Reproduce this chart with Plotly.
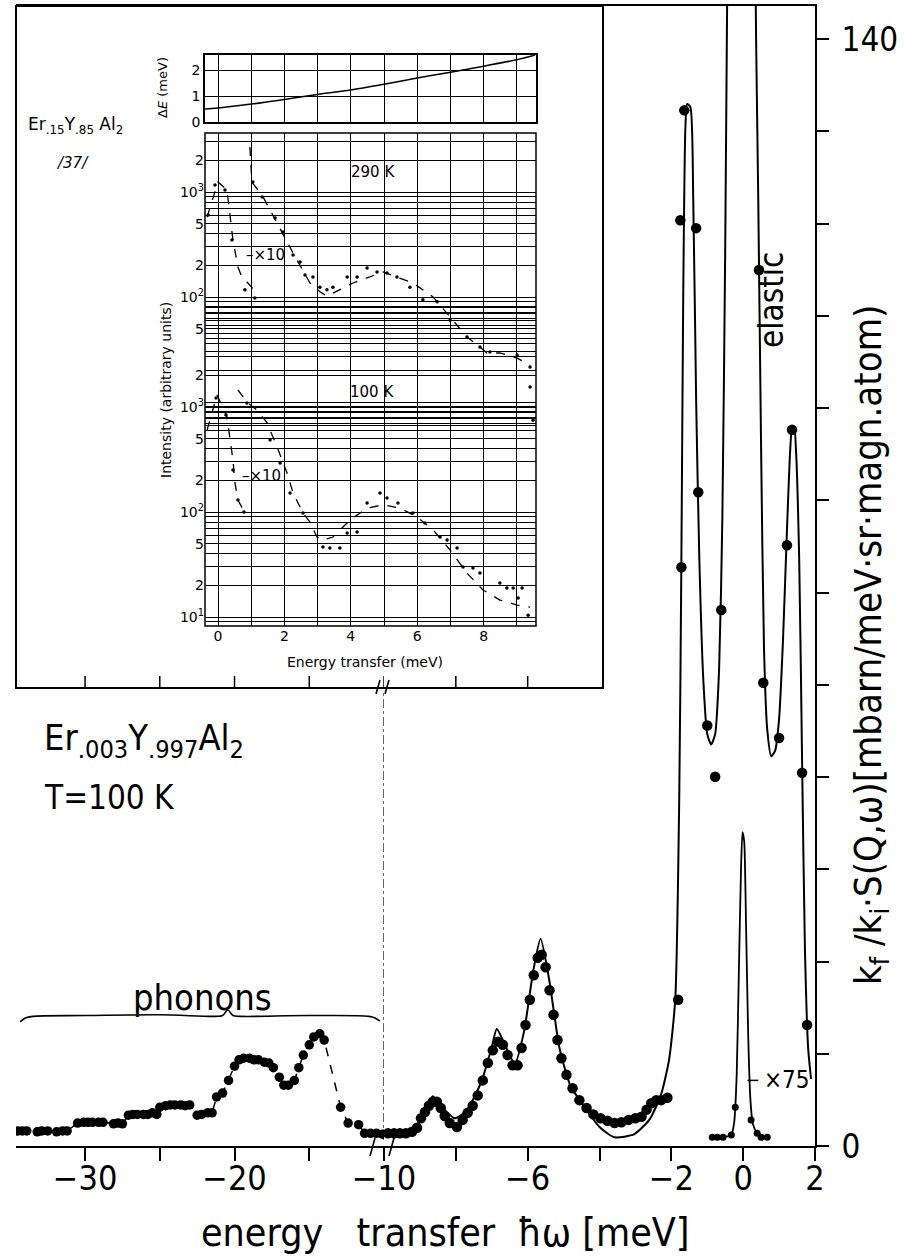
import plotly.graph_objects as go

W, H = 909, 1256
FONT = "DejaVu Sans Condensed, Liberation Sans Narrow, DejaVu Sans, sans-serif"


def fx(p):
    return p / W


def fy(p):
    return (H - p) / H


# ---------------- main panel data (energy transfer in meV, intensity) ----------------
# phonon region (compressed scale, E <= -10), dots joined by a dashed line
left_E = [-34.5, -34.2, -33.9, -33.2, -32.9, -32.5, -31.9, -31.5, -31.2,
          -30.5, -30.1, -29.8, -29.5, -29.1, -28.8,
          -28.1, -27.8, -27.5,
          -27.1, -26.8, -26.5, -26.1, -25.8, -25.5, -25.2,
          -25.0, -24.6, -24.3, -24.0, -23.6, -23.3, -23.0,
          -22.5, -22.2, -21.8, -21.5,
          -21.2, -20.8, -20.4, -20.0, -19.7, -19.4, -19.0, -18.7, -18.4, -18.0, -17.7,
          -17.4, -17.0, -16.7, -16.4, -16.0, -15.7, -15.4, -15.0, -14.7, -14.3, -14.0,
          -12.9, -12.4, -11.7, -11.3, -10.9, -10.5, -10.1]
left_S = [1.9, 1.9, 1.9, 1.8, 1.9, 1.9, 1.8, 1.9, 1.9,
          2.9, 3.0, 3.0, 3.0, 3.0, 3.0,
          2.8, 2.9, 2.8,
          3.9, 4.0, 4.0, 4.0, 4.0, 4.2, 4.0,
          4.9, 5.1, 5.2, 5.2, 5.2, 5.1, 5.2,
          3.9, 4.0, 4.2, 4.2,
          6.2, 6.7, 8.3, 10.1, 10.9, 11.1, 11.1, 10.9, 10.9, 10.6, 10.5,
          9.9, 8.7, 7.7, 7.7, 8.3, 9.9, 11.5, 12.8, 13.8, 14.2, 13.4,
          4.9, 2.9, 2.7, 1.6, 1.6, 1.6, 1.5]

# crystal-field region (expanded scale, E >= -10): measured dots
right_E = [-9.89, -9.72, -9.56, -9.39, -9.22, -9.08, -8.97, -8.86, -8.75, -8.64,
           -8.53, -8.42, -8.31, -8.17, -7.97, -7.81, -7.67, -7.53, -7.39, -7.25,
           -7.11, -6.97, -6.83, -6.69, -6.56, -6.42, -6.28, -6.17, -6.06, -5.94,
           -5.83, -5.72, -5.61, -5.50, -5.39, -5.28, -5.17, -5.06, -4.92, -4.75,
           -4.56, -4.36, -4.17, -3.97, -3.78, -3.58, -3.39, -3.19, -3.00, -2.83,
           -2.69, -2.56, -2.42, -2.28, -2.11, -1.81, -1.75, -1.72, -1.64, -1.31,
           -1.25, -1.00, -0.78, -0.61, 0.44, 0.56, 1.00, 1.22, 1.36, 1.64, 1.78]
right_S = [1.6, 1.6, 1.6, 1.6, 1.8, 2.3, 3.5, 4.3, 5.1, 5.6,
           5.6, 4.8, 3.8, 2.9, 2.4, 3.3, 4.2, 5.1, 6.4, 8.3,
           10.5, 12.1, 13.2, 12.8, 11.5, 10.2, 10.2, 12.4, 15.3, 18.5,
           21.6, 23.8, 24.2, 22.6, 19.7, 16.6, 13.4, 11.1, 9.0, 7.3,
           5.8, 4.8, 4.0, 3.5, 3.2, 2.9, 3.0, 3.3, 3.5, 3.7,
           4.6, 5.4, 5.8, 5.8, 6.1, 18.5, 117.1, 73.2, 131.0, 116.1,
           82.7, 53.2, 46.7, 67.8, 110.8, 58.6, 51.6, 76.0, 90.6, 47.2, 15.3]

# calculated curve (solid); gap where the elastic line leaves the frame
fit_E = [-9.6, -9.2, -8.9, -8.64, -8.4, -8.03, -7.7, -7.3, -7.0, -6.86,
         -6.6, -6.36, -6.1, -5.85, -5.64, -5.4, -5.11, -4.8, -4.56, -4.0,
         -3.58, -3.03, -2.6, -2.28, -2.06, -1.89, -1.78, -1.72, -1.67, -1.61,
         -1.56, -1.47, -1.39, -1.31, -1.22, -1.11, -1.0, -0.89, -0.78, -0.67,
         -0.58, -0.5, -0.42, None,
         0.3, 0.36, 0.42, 0.5, 0.58, 0.67, 0.78, 0.89, 1.0, 1.11,
         1.22, 1.31, 1.36, 1.42, 1.47, 1.56, 1.64, 1.72, 1.81, 1.89]
fit_S = [1.6, 2.0, 4.0, 6.3, 5.0, 3.5, 4.5, 8.0, 12.5, 14.8,
         12.5, 10.4, 14.5, 22.0, 26.2, 21.0, 12.3, 7.5, 5.9, 2.4,
         1.1, 1.5, 3.4, 6.6, 11.0, 18.6, 43.9, 74.2, 107.0, 128.6,
         131.8, 131.4, 119.8, 94.5, 74.2, 59.0, 52.1, 50.8, 52.1, 60.3,
         79.3, 113.4, 160.0, None,
         170.0, 140.0, 119.8, 88.1, 62.9, 52.7, 49.3, 50.0, 54.0, 64.1,
         78.0, 88.1, 90.7, 90.9, 88.1, 74.2, 48.9, 24.9, 12.3, 8.5]

# elastic line scaled down x75
x75_dot_E = [-0.86, -0.72, -0.56, -0.33, -0.22, 0.22, 0.39, 0.50, 0.67]
x75_dot_S = [1.1, 1.1, 1.1, 1.4, 4.9, 3.3, 1.6, 1.1, 1.1]
x75_fit_E = [-0.56, -0.33, -0.25, -0.18, -0.12, -0.06, -0.02, 0.03, 0.08, 0.14, 0.20, 0.27, 0.39, 0.50]
x75_fit_S = [1.1, 1.4, 3.0, 9.0, 22.0, 35.0, 39.7, 38.5, 28.0, 14.0, 6.0, 2.8, 1.6, 1.1]

# "phonons" brace
brace_E = [-34.35, -34.0, -33.5, -30, -25, -21.3, -20.8, -20.45, -20.1, -19.6, -15, -11, -10.6, -10.27]
brace_S = [15.7, 16.2, 16.4, 16.5, 16.6, 16.4, 16.5, 17.2, 16.5, 16.4, 16.5, 16.4, 16.2, 15.8]

# main axis ticks
left_ticks = [-30, -25, -20, -15, -10]
left_labels = ["\u221230", "", "\u221220", "", "\u221210"]
right_ticks = [-8, -6, -4, -2, 0, 2]
right_labels = ["", "\u22126", "", "\u22122", "0", "2"]
inset_edge_ticks_left = [-30, -25, -20, -15, -10]
inset_edge_ticks_right = [-8, -6]
y_ticks = [i * 140 / 12 for i in range(13)]
y_labels = ["0"] + [""] * 11 + ["140"]

# ---------------- inset data ----------------
dE_E = [-0.39, 0, 1, 2, 3, 4, 5, 6, 7, 8, 9, 9.55]
dE_W = [0.50, 0.54, 0.69, 0.87, 1.06, 1.23, 1.45, 1.69, 1.92, 2.15, 2.40, 2.58]

hot_peak_E = [-0.33, -0.18, 0.0, 0.27, 0.36, 0.45, 0.60, 0.72, 0.90, 1.17]
hot_peak_I = [578, 839, 1245, 1045, 631, 349, 193, 155, 136, 109]
hot_x10_E = [0.96, 1.02, 1.36, 1.72, 2.26, 2.77, 3.07, 3.28, 3.46, 4.07,
             4.97, 5.87, 6.48, 6.99, 7.50, 7.89, 8.10, 8.49, 9.01, 9.40]
hot_x10_I = [2683, 1245, 896, 541, 262, 136, 112, 102, 109, 136,
             173, 136, 100, 64.5, 41.6, 33.4, 29.3, 29.3, 26.2, 22.5]
hot_pts_E = [-0.30, -0.09, 0.21, 0.42, 0.81, 1.11, 1.05, 1.33, 1.72, 1.96, 2.26,
             2.47, 2.62, 2.86, 3.07, 3.28, 3.46, 3.89, 4.19, 4.49, 4.79,
             5.09, 5.39, 5.78, 6.17, 6.60, 6.99, 7.50, 7.89, 8.19, 9.01,
             9.40, 9.40, 9.49]
hot_pts_I = [604, 1166, 1045, 349, 117, 98, 1245, 896, 565, 416, 251,
             215, 162, 155, 124, 117, 124, 155, 155, 189, 173,
             169, 155, 124, 94, 90, 60, 41.6, 33.4, 29.9, 28.1,
             21.5, 13.9, 6.7]

cold_peak_E = [-0.33, -0.03, 0.27, 0.36, 0.45, 0.51, 0.60, 0.81]
cold_peak_I = [604, 1301, 803, 518, 313, 189, 130, 98]
cold_x10_E = [0.60, 0.87, 1.17, 1.48, 1.78, 2.08, 2.26, 2.56, 2.77, 2.98,
              3.16, 3.46, 3.98, 4.49, 4.97, 5.48, 5.99, 6.48, 6.99, 7.50,
              7.98, 8.49, 9.01, 9.40]
cold_x10_I = [1452, 1116, 936, 705, 416, 235, 152, 98, 80, 57.8,
              54.1, 57.8, 84, 109, 117, 109, 90, 67.5, 43.5, 26.2,
              18.1, 14.5, 13.0, 12.4]
cold_pts_E = [-0.06, 0.24, 0.45, 0.60, 0.78, 0.87, 1.57, 1.87, 2.17, 2.56,
              3.16, 3.37, 3.67, 3.89, 4.19, 4.49, 4.88, 5.09, 5.42, 5.87,
              6.23, 6.69, 6.90, 7.20, 7.38, 7.68, 7.89, 8.49, 8.70, 8.89,
              9.16, 9.04, 9.34]
cold_pts_I = [1218, 839, 251, 130, 100, 1092, 485, 293, 152, 98,
              46.4, 45.4, 45.4, 63.1, 64.5, 122, 152, 136, 122, 98,
              78.5, 57.8, 54.1, 45.4, 29.9, 29.3, 26.2, 21.1, 18.9, 18.9,
              18.9, 15.2, 10.4]

hot_ticks = [50, 100, 200, 500, 1000, 2000]
hot_labels = ["5", "10<sup>2</sup>", "2", "5", "10<sup>3</sup>", "2"]
cold_ticks = [10, 20, 50, 100, 200, 500, 1000, 2000]
cold_labels = ["10<sup>1</sup>", "2", "5", "10<sup>2</sup>", "2", "5", "10<sup>3</sup>", "2"]
inset_xticks = list(range(10))
inset_xlabels = ["0", "", "2", "", "4", "", "6", "", "8", ""]
log_minor = [k * 10 ** n for n in range(0, 4) for k in range(1, 10)]

# ---------------- figure ----------------
fig = go.Figure()
BLK = "black"

fig.add_trace(go.Scatter(x=left_E, y=left_S, xaxis="x", yaxis="y", mode="lines+markers",
                         line=dict(color=BLK, width=1.5, dash="dash"),
                         marker=dict(size=9.5, color=BLK)))
fig.add_trace(go.Scatter(x=brace_E, y=brace_S, xaxis="x", yaxis="y", mode="lines",
                         line=dict(color=BLK, width=1.6, shape="spline")))
fig.add_trace(go.Scatter(x=fit_E, y=fit_S, xaxis="x2", yaxis="y", mode="lines",
                         line=dict(color=BLK, width=2, shape="spline", smoothing=0.6)))
fig.add_trace(go.Scatter(x=right_E, y=right_S, xaxis="x2", yaxis="y", mode="markers",
                         marker=dict(size=10.5, color=BLK)))
fig.add_trace(go.Scatter(x=x75_fit_E, y=x75_fit_S, xaxis="x2", yaxis="y", mode="lines",
                         line=dict(color=BLK, width=1.8, shape="spline", smoothing=0.5)))
fig.add_trace(go.Scatter(x=x75_dot_E, y=x75_dot_S, xaxis="x2", yaxis="y", mode="markers",
                         marker=dict(size=7, color=BLK)))

# inset: resolution panel
fig.add_trace(go.Scatter(x=dE_E, y=dE_W, xaxis="x4", yaxis="y6", mode="lines",
                         line=dict(color=BLK, width=1.5, shape="spline")))
# inset: 290 K
fig.add_trace(go.Scatter(x=hot_peak_E, y=hot_peak_I, xaxis="x3", yaxis="y3", mode="lines",
                         line=dict(color=BLK, width=1.3, dash="dash")))
fig.add_trace(go.Scatter(x=hot_x10_E, y=hot_x10_I, xaxis="x3", yaxis="y3", mode="lines",
                         line=dict(color=BLK, width=1.3, dash="dash")))
fig.add_trace(go.Scatter(x=hot_pts_E, y=hot_pts_I, xaxis="x3", yaxis="y3", mode="markers",
                         marker=dict(size=3.5, color=BLK)))
# inset: 100 K
fig.add_trace(go.Scatter(x=cold_peak_E, y=cold_peak_I, xaxis="x3", yaxis="y4", mode="lines",
                         line=dict(color=BLK, width=1.3, dash="dash")))
fig.add_trace(go.Scatter(x=cold_x10_E, y=cold_x10_I, xaxis="x3", yaxis="y4", mode="lines",
                         line=dict(color=BLK, width=1.3, dash="dash")))
fig.add_trace(go.Scatter(x=cold_pts_E, y=cold_pts_I, xaxis="x3", yaxis="y4", mode="markers",
                         marker=dict(size=3.5, color=BLK)))

main_x_common = dict(showgrid=False, zeroline=False, showline=True, linecolor=BLK, linewidth=2,
                     ticks="outside", ticklen=13, tickwidth=1.6, tickcolor=BLK, automargin=False,
                     ticklabelstandoff=-12,
                     tickfont=dict(size=34, color=BLK, family=FONT), mirror=True)

inset_grid = dict(showgrid=True, gridcolor=BLK, gridwidth=0.8, zeroline=False, automargin=False)
small_font = dict(size=14, color=BLK, family="DejaVu Sans, sans-serif")

hot_top, hot_bot = 133, 430
cold_top, cold_bot = 300, 626

fig.update_layout(
    template="none",
    width=W, height=H, margin=dict(l=0, r=0, t=0, b=0, pad=0), autosize=False,
    paper_bgcolor="white", plot_bgcolor="rgba(0,0,0,0)", showlegend=False,
    xaxis=dict(domain=[fx(16), fx(384)], range=[-34.62, -10], anchor="y",
               tickmode="array", tickvals=left_ticks, ticktext=left_labels, **main_x_common),
    xaxis2=dict(domain=[fx(384), fx(815)], range=[-10, 2.0], anchor="y",
                tickmode="array", tickvals=right_ticks, ticktext=right_labels, **main_x_common),
    yaxis=dict(domain=[fy(1146), fy(6)], range=[0, 144.2], anchor="x2", side="right",
               tickmode="array", tickvals=y_ticks, ticktext=y_labels, automargin=False,
               showgrid=False, zeroline=False, showline=True, linecolor=BLK, linewidth=2,
               ticks="outside", ticklen=12, tickwidth=1.6, tickcolor=BLK,
               ticklabelstandoff=6,
               tickfont=dict(size=33, color=BLK, family=FONT)),
    # inset axes
    xaxis3=dict(domain=[fx(205), fx(536)], range=[-0.392, 9.578], anchor="y4",
                tickmode="array", tickvals=inset_xticks, ticktext=inset_xlabels,
                ticks="", tickfont=small_font, showline=False, **inset_grid),
    xaxis4=dict(domain=[fx(205), fx(536)], range=[-0.392, 9.578], anchor="y6",
                tickmode="array", tickvals=inset_xticks, showticklabels=False,
                ticks="", showline=True, mirror=True, linecolor=BLK, linewidth=1.5, **inset_grid),
    yaxis6=dict(domain=[fy(122), fy(55)], range=[0, 2.58], anchor="x4",
                tickmode="array", tickvals=[0, 1, 2], ticks="", tickfont=small_font,
                showline=True, mirror=True, linecolor=BLK, linewidth=1.5, **inset_grid),
    yaxis3=dict(type="log", domain=[fy(hot_bot), fy(hot_top)],
                range=[3 + (192 - hot_bot) / 105, 3 + (192 - hot_top) / 105], anchor="x3",
                tickmode="array", tickvals=hot_ticks, ticktext=hot_labels, ticks="",
                tickfont=small_font, showline=False,
                minor=dict(tickmode="array", tickvals=log_minor, showgrid=True,
                           gridcolor=BLK, gridwidth=0.7, ticks=""),
                **inset_grid),
    yaxis4=dict(type="log", domain=[fy(cold_bot), fy(cold_top)],
                range=[3 + (407 - cold_bot) / 105, 3 + (407 - cold_top) / 105], anchor="x3",
                tickmode="array", tickvals=cold_ticks, ticktext=cold_labels, ticks="",
                tickfont=small_font, showline=False,
                minor=dict(tickmode="array", tickvals=log_minor, showgrid=True,
                           gridcolor=BLK, gridwidth=0.7, ticks=""),
                **inset_grid),
)

shapes = [
    dict(type="rect", xref="paper", yref="paper", x0=fx(16), x1=fx(603), y0=fy(688), y1=fy(6),
         line=dict(color=BLK, width=2), fillcolor="rgba(0,0,0,0)", layer="above"),
    # frame of the log panel
    dict(type="rect", xref="paper", yref="paper", x0=fx(205), x1=fx(536), y0=fy(626), y1=fy(133),
         line=dict(color=BLK, width=1.5), fillcolor="rgba(0,0,0,0)", layer="above"),
    dict(type="line", xref="x", yref="paper", x0=-10, x1=-10, y0=fy(1140), y1=fy(690),
         line=dict(color=BLK, width=1.2, dash="dashdot")),
    # axis break marks
    dict(type="line", xref="paper", yref="paper", x0=fx(370), x1=fx(375), y0=fy(1156), y1=fy(1138),
         line=dict(color=BLK, width=1.6)),
    dict(type="line", xref="paper", yref="paper", x0=fx(389), x1=fx(394), y0=fy(1156), y1=fy(1138),
         line=dict(color=BLK, width=1.6)),
    dict(type="line", xref="paper", yref="paper", x0=fx(376), x1=fx(380), y0=fy(694), y1=fy(680),
         line=dict(color=BLK, width=1.6)),
    dict(type="line", xref="paper", yref="paper", x0=fx(385), x1=fx(389), y0=fy(694), y1=fy(680),
         line=dict(color=BLK, width=1.6)),
    # x75 pointer
    dict(type="line", xref="x2", yref="y", x0=0.12, x1=0.42, y0=8.3, y1=8.3,
         line=dict(color=BLK, width=1.5)),
]
# upward ticks along the lower edge of the inset, on the main energy scale
for v in inset_edge_ticks_left:
    shapes.append(dict(type="line", xref="x", yref="paper", x0=v, x1=v, y0=fy(688), y1=fy(676),
                       line=dict(color=BLK, width=1.5)))
for v in inset_edge_ticks_right:
    shapes.append(dict(type="line", xref="x2", yref="paper", x0=v, x1=v, y0=fy(688), y1=fy(676),
                       line=dict(color=BLK, width=1.5)))
fig.update_layout(shapes=shapes)


def ann(x, y, text, size, angle=0, xanchor="center", family=FONT):
    return dict(x=fx(x), y=fy(y), xref="paper", yref="paper", text=text, showarrow=False,
                textangle=angle, xanchor=xanchor, yanchor="middle",
                font=dict(size=size, color=BLK, family=family))


sm = "DejaVu Sans, sans-serif"
annotations = [
    ann(445, 1232, "energy\u00a0\u00a0 transfer\u00a0\u00a0\u0127\u03c9 [meV]", 39),
    ann(870, 645, "k<sub>f</sub> /k<sub>i</sub>\u00b7S(Q,\u03c9)[mbarn/meV\u00b7sr\u00b7magn.atom)", 38, angle=-90),
    ann(42, 740, "Er<sub>.003</sub>Y<sub>.997</sub>Al<sub>2</sub>", 36, xanchor="left"),
    ann(42, 797, "T=100 K", 33, xanchor="left"),
    ann(202, 997, "phonons", 36),
    ann(772, 300, "elastic", 33, angle=-90),
    ann(762, 1080, "\u00d775", 24, xanchor="left"),
    # inset texts
    ann(163, 88, "\u0394<i>E</i> (meV)", 13, angle=-90, family=sm),
    ann(166, 390, "Intensity (arbitrary units)", 14, angle=-90, family=sm),
    ann(365, 662, "Energy transfer (meV)", 14, family=sm),
    ann(373, 172, "290 K", 15, family=sm),
    ann(372, 392, "100 K", 15, family=sm),
    ann(244, 255, "\u2013\u00d710", 15, xanchor="left", family=sm),
    ann(240, 476, "\u2013\u00d710", 15, xanchor="left", family=sm),
    ann(75, 125, "Er<sub>.15</sub>Y<sub>.85</sub> Al<sub>2</sub>", 17, family=sm),
    ann(72, 163, "<i>/37/</i>", 15, family=sm),
]
fig.update_layout(annotations=annotations)

fig.write_html("out.html")
